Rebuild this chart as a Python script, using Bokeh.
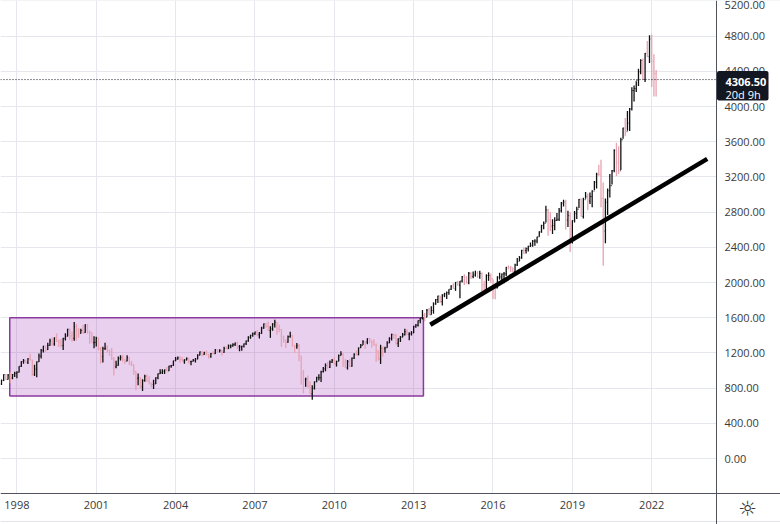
from bokeh.plotting import figure
from bokeh.models import Range1d, FixedTicker, PrintfTickFormatter, Label, BoxAnnotation
from bokeh.embed import file_html
from bokeh.resources import INLINE

# ---- data (monthly bars, Jan 1997 .. Mar 2022) ----
start_year = 1997
first_open = 740
close = [
    786, 791, 757, 801, 848, 885, 954, 899, 947, 915, 955, 970,          # 1997
    980, 1049, 1102, 1112, 1091, 1134, 1121, 957, 1017, 1099, 1164, 1229,  # 1998
    1280, 1238, 1286, 1335, 1302, 1373, 1329, 1320, 1283, 1363, 1389, 1469,  # 1999
    1394, 1366, 1499, 1452, 1421, 1455, 1431, 1518, 1437, 1429, 1315, 1320,  # 2000
    1366, 1240, 1160, 1249, 1256, 1224, 1211, 1134, 1041, 1060, 1139, 1148,  # 2001
    1130, 1107, 1147, 1077, 1067, 990, 912, 916, 815, 886, 936, 880,        # 2002
    856, 841, 848, 917, 964, 975, 990, 1008, 996, 1051, 1058, 1112,        # 2003
    1131, 1145, 1126, 1107, 1121, 1141, 1102, 1104, 1115, 1130, 1174, 1212,  # 2004
    1181, 1204, 1181, 1157, 1192, 1191, 1234, 1220, 1229, 1207, 1249, 1248,  # 2005
    1280, 1281, 1295, 1311, 1270, 1270, 1277, 1304, 1336, 1378, 1401, 1418,  # 2006
    1438, 1407, 1421, 1482, 1531, 1503, 1455, 1474, 1527, 1549, 1481, 1468,  # 2007
    1379, 1331, 1323, 1386, 1400, 1280, 1267, 1283, 1166, 969, 896, 903,    # 2008
    826, 735, 798, 873, 919, 919, 987, 1021, 1057, 1036, 1096, 1115,       # 2009
    1074, 1104, 1169, 1187, 1089, 1031, 1102, 1049, 1141, 1183, 1181, 1258,  # 2010
    1286, 1327, 1326, 1364, 1345, 1321, 1292, 1219, 1131, 1253, 1247, 1258,  # 2011
    1312, 1366, 1408, 1398, 1310, 1362, 1379, 1407, 1441, 1412, 1416, 1426,  # 2012
    1498, 1515, 1569, 1598, 1631, 1606, 1686, 1633, 1682, 1757, 1806, 1848,  # 2013
    1783, 1859, 1872, 1884, 1924, 1960, 1931, 2003, 1972, 2018, 2068, 2059,  # 2014
    1995, 2105, 2068, 2086, 2107, 2063, 2104, 1972, 1920, 2079, 2080, 2044,  # 2015
    1940, 1932, 2060, 2065, 2097, 2099, 2174, 2171, 2168, 2126, 2199, 2239,  # 2016
    2279, 2364, 2363, 2384, 2412, 2423, 2470, 2472, 2519, 2575, 2648, 2674,  # 2017
    2824, 2714, 2641, 2648, 2705, 2718, 2816, 2902, 2914, 2712, 2760, 2507,  # 2018
    2704, 2784, 2834, 2946, 2752, 2942, 2980, 2926, 2977, 3038, 3141, 3231,  # 2019
    3226, 2954, 2585, 2912, 3044, 3100, 3271, 3500, 3363, 3270, 3622, 3756,  # 2020
    3714, 3811, 3973, 4181, 4204, 4298, 4395, 4523, 4308, 4605, 4567, 4766,  # 2021
    4516, 4374, 4306.5,                                                   # 2022
]
high = [
    795, 817, 814, 805, 851, 899, 957, 961, 960, 983, 960, 987,
    993, 1050, 1106, 1130, 1122, 1139, 1191, 1122, 1067, 1104, 1193, 1245,
    1280, 1283, 1316, 1362, 1376, 1376, 1421, 1352, 1359, 1373, 1423, 1474,
    1478, 1445, 1553, 1528, 1481, 1475, 1517, 1525, 1530, 1454, 1436, 1389,
    1384, 1376, 1267, 1269, 1316, 1287, 1239, 1255, 1155, 1110, 1160, 1173,
    1176, 1131, 1173, 1147, 1107, 1070, 994, 965, 924, 900, 951, 954,
    935, 864, 895, 924, 965, 1015, 1015, 1011, 1040, 1054, 1063, 1112,
    1155, 1159, 1164, 1151, 1128, 1147, 1141, 1110, 1132, 1142, 1184, 1217,
    1218, 1213, 1229, 1192, 1200, 1219, 1246, 1246, 1243, 1233, 1270, 1276,
    1295, 1297, 1311, 1318, 1326, 1290, 1283, 1306, 1340, 1389, 1407, 1432,
    1441, 1462, 1438, 1498, 1535, 1541, 1556, 1504, 1539, 1576, 1553, 1524,
    1471, 1396, 1359, 1397, 1440, 1405, 1292, 1313, 1303, 1167, 1007, 919,
    944, 876, 832, 876, 930, 957, 997, 1040, 1081, 1101, 1113, 1130,
    1150, 1112, 1181, 1220, 1200, 1131, 1120, 1130, 1148, 1196, 1228, 1262,
    1302, 1345, 1332, 1367, 1371, 1345, 1357, 1307, 1230, 1293, 1277, 1270,
    1333, 1378, 1419, 1422, 1415, 1364, 1392, 1427, 1475, 1470, 1434, 1448,
    1509, 1530, 1570, 1598, 1687, 1654, 1698, 1710, 1730, 1775, 1813, 1849,
    1851, 1867, 1883, 1897, 1925, 1968, 1991, 2005, 2019, 2018, 2075, 2093,
    2072, 2120, 2118, 2126, 2135, 2130, 2133, 2113, 2021, 2094, 2116, 2104,
    2038, 1963, 2072, 2111, 2103, 2121, 2178, 2194, 2188, 2169, 2214, 2278,
    2301, 2372, 2401, 2399, 2418, 2454, 2484, 2491, 2519, 2582, 2658, 2695,
    2873, 2835, 2801, 2718, 2742, 2791, 2848, 2916, 2941, 2940, 2815, 2800,
    2708, 2813, 2860, 2950, 2954, 2964, 3028, 3013, 3022, 3050, 3154, 3248,
    3338, 3394, 3136, 2955, 3068, 3233, 3280, 3514, 3588, 3550, 3646, 3760,
    3870, 3950, 3983, 4218, 4238, 4286, 4430, 4538, 4546, 4608, 4744, 4809,
    4818, 4595, 4416,
]
low = [
    737, 773, 756, 733, 793, 836, 882, 893, 899, 855, 900, 926,
    912, 979, 1041, 1076, 1086, 1074, 1114, 940, 939, 923, 1098, 1136,
    1205, 1212, 1234, 1282, 1282, 1281, 1323, 1268, 1264, 1234, 1342, 1387,
    1350, 1326, 1339, 1339, 1374, 1420, 1417, 1430, 1419, 1305, 1316, 1254,
    1274, 1229, 1081, 1091, 1232, 1203, 1165, 1124, 945, 1026, 1054, 1114,
    1101, 1074, 1105, 1063, 1049, 953, 776, 834, 800, 768, 873, 872,
    840, 806, 789, 847, 902, 960, 962, 960, 990, 996, 1031, 1053,
    1106, 1124, 1088, 1106, 1077, 1114, 1078, 1060, 1102, 1091, 1128, 1173,
    1163, 1180, 1173, 1137, 1146, 1188, 1188, 1201, 1206, 1168, 1202, 1246,
    1245, 1254, 1269, 1280, 1245, 1219, 1224, 1261, 1290, 1326, 1360, 1385,
    1403, 1390, 1364, 1416, 1476, 1485, 1452, 1371, 1452, 1490, 1406, 1435,
    1270, 1317, 1257, 1315, 1373, 1272, 1200, 1248, 1106, 840, 741, 815,
    805, 734, 667, 784, 867, 888, 869, 979, 992, 1020, 1030, 1086,
    1071, 1045, 1106, 1171, 1041, 1028, 1011, 1040, 1042, 1131, 1174, 1173,
    1257, 1289, 1249, 1299, 1311, 1258, 1282, 1101, 1114, 1075, 1159, 1203,
    1259, 1312, 1341, 1358, 1292, 1267, 1325, 1378, 1398, 1403, 1343, 1398,
    1426, 1485, 1501, 1537, 1581, 1560, 1605, 1627, 1633, 1646, 1747, 1768,
    1770, 1738, 1834, 1814, 1860, 1915, 1930, 1905, 1964, 1821, 2001, 1973,
    1988, 1981, 2040, 2048, 2067, 2056, 2044, 1867, 1872, 1893, 2019, 1993,
    1812, 1810, 1937, 2034, 2025, 1992, 2075, 2148, 2120, 2114, 2084, 2187,
    2245, 2271, 2322, 2329, 2353, 2405, 2407, 2418, 2446, 2520, 2566, 2605,
    2682, 2533, 2585, 2553, 2594, 2698, 2699, 2796, 2864, 2603, 2631, 2346,
    2443, 2681, 2722, 2848, 2751, 2729, 2952, 2822, 2892, 2855, 3050, 3070,
    3214, 2855, 2192, 2447, 2767, 2966, 3115, 3252, 3210, 3234, 3280, 3634,
    3663, 3725, 3723, 3956, 4056, 4165, 4234, 4367, 4306, 4279, 4560, 4495,
    4222, 4115, 4114,
]
year_ticks = [1998, 2001, 2004, 2007, 2010, 2013, 2016, 2019, 2022]
price_ticks = [0, 400, 800, 1200, 1600, 2000, 2400, 2800, 3200, 3600, 4000, 4400, 4800, 5200]

# drawings on the chart
range_box_dates = [1997.73, 2013.37]
range_box_prices = [710, 1600]
trend_dates = [2013.63, 2024.1]
trend_prices = [1520, 3406]
last_price = 4306.50
last_price_text = "4306.50"
countdown = "20d 9h"

# ---- layout (pixels -> data) ----
W, H = 780, 524
ppy = 26.45          # pixels per year
ppu = 0.088          # pixels per price unit
x_start = 1997.38
x_end = x_start + W / ppy
x_axis_at = x_start + 716 / ppy      # price scale border
y_top = 5205
y_bottom = y_top - H / ppu
y_axis_at = y_top - 493 / ppu        # time scale border


def px_x(px):
    return x_start + px / ppy


def px_y(py):
    return y_top - py / ppu


# ---- build ----
n = len(close)
opens = [first_open] + close[:-1]
t = [start_year + i / 12 for i in range(n)]
up_color, down_color = "#111111", "#e8a2b2"
colors = [up_color if c >= o else down_color for o, c in zip(opens, close)]

p = figure(width=W, height=H, x_range=Range1d(x_start, x_end), y_range=Range1d(y_bottom, y_top),
           y_axis_location="right", output_backend="svg", toolbar_location=None,
           min_border=0)
p.outline_line_color = None
p.background_fill_color = "white"
p.border_fill_color = "white"

FONT = "Open Sans"
for ax in (p.xaxis[0], p.yaxis[0]):
    ax.axis_line_color = "#50535e"
    ax.axis_line_width = 1
    ax.major_tick_in = 0
    ax.major_tick_out = 0
    ax.minor_tick_in = 0
    ax.minor_tick_out = 0
    ax.major_label_text_font = FONT
    ax.major_label_text_font_size = "11px"
    ax.major_label_text_color = "#3a3a3a"
p.xaxis.ticker = FixedTicker(ticks=year_ticks)
p.xaxis.formatter = PrintfTickFormatter(format="%d")
p.xaxis.major_label_standoff = 7
p.xaxis.fixed_location = y_axis_at
p.yaxis.ticker = FixedTicker(ticks=price_ticks)
p.yaxis.formatter = PrintfTickFormatter(format="%.2f")
p.yaxis.major_label_standoff = 8
p.yaxis.fixed_location = x_axis_at
p.grid.grid_line_color = "#e6e7ec"
p.grid.grid_line_width = 1

# keep the scale panels clear of grid lines
p.quad(left=[x_axis_at], right=[x_end], bottom=[y_bottom], top=[y_top],
       fill_color="white", line_color=None)
p.quad(left=[x_start], right=[x_end], bottom=[y_bottom], top=[y_axis_at],
       fill_color="white", line_color=None)
# faint bottom border
p.line([x_start, x_end], [px_y(521), px_y(521)], line_color="#e3e5ea", line_width=1)

# range rectangle
p.quad(left=[range_box_dates[0]], right=[range_box_dates[1]],
       bottom=[range_box_prices[0]], top=[range_box_prices[1]],
       fill_color="#9c27b0", fill_alpha=0.22, line_color="#8b3a9d", line_width=1.5)

# OHLC bars
d = 0.35 / 12
p.segment(x0=t, y0=low, x1=t, y1=high, color=colors, line_width=1.3)
p.segment(x0=[v - d for v in t], y0=opens, x1=t, y1=opens, color=colors, line_width=1)
p.segment(x0=t, y0=close, x1=[v + d for v in t], y1=close, color=colors, line_width=1)

# trend line
p.line(trend_dates, trend_prices, line_width=4.5, color="black")

# last price line
p.line([x_start, x_axis_at], [last_price, last_price], line_color="#131722",
       line_dash="1 2", line_width=1)

# last price tag on the price scale
p.add_layout(BoxAnnotation(left=px_x(716.5), right=px_x(768), top=px_y(70.5), bottom=px_y(100),
                           fill_color="#131722", fill_alpha=1.0, line_color=None,
                           border_radius=2))
p.add_layout(Label(x=px_x(725), y=px_y(81), text=last_price_text, text_font=FONT,
                   text_font_size="11px", text_font_style="bold", text_color="white",
                   text_align="left", text_baseline="middle"))
p.add_layout(Label(x=px_x(725), y=px_y(93.5), text=countdown,
                   text_font=FONT, text_font_size="11px", text_color="white",
                   text_align="left", text_baseline="middle"))

# settings icon in the corner
p.add_layout(Label(x=px_x(747), y=px_y(508), text="\u263c",
                   text_font="DejaVu Sans", text_font_size="21px", text_color="#333333",
                   text_align="center", text_baseline="middle"))

open("out.html", "w").write(file_html(p, INLINE))
